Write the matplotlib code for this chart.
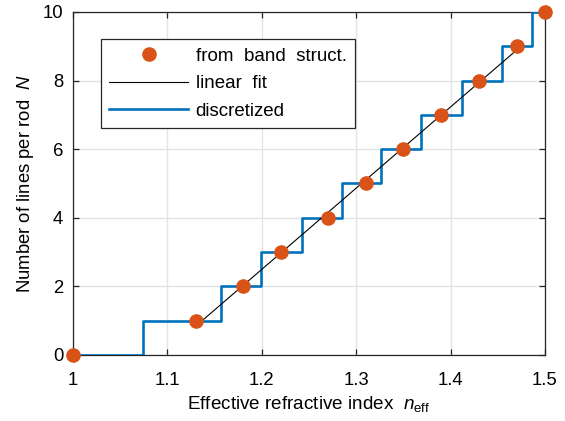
import matplotlib
matplotlib.use("Agg")
import matplotlib.pyplot as plt

# data
band_n = [1.0, 1.13, 1.18, 1.22, 1.27, 1.31, 1.35, 1.39, 1.43, 1.47, 1.5]
band_N = [0, 1, 2, 3, 4, 5, 6, 7, 8, 9, 10]

fit_n = [1.13, 1.47]
fit_N = [0.84, 8.89]

step_n = [1.0, 1.0745, 1.1564, 1.199, 1.2423, 1.2846, 1.326, 1.369, 1.412, 1.454, 1.4866, 1.5]
step_N = [0, 1, 2, 3, 4, 5, 6, 7, 8, 9, 10, 10]

x_ticks = [1.0, 1.1, 1.2, 1.3, 1.4, 1.5]
x_labels = ["1", "1.1", "1.2", "1.3", "1.4", "1.5"]
y_ticks = [0, 2, 4, 6, 8, 10]

plt.rcParams["font.family"] = ["Liberation Sans", "DejaVu Sans"]
plt.rcParams["mathtext.fontset"] = "custom"
plt.rcParams["mathtext.rm"] = "Liberation Sans"
plt.rcParams["mathtext.it"] = "Liberation Sans:italic"

dark = "#262626"
blue = "#0072BD"
orange = "#D95319"

fig = plt.figure(figsize=(5.65, 4.21), dpi=100)
ax = fig.add_axes([0.1292, 0.1568, 0.8354, 0.8147])

ax.step(step_n, step_N, where="post", color=blue, lw=1.9, label="discretized", zorder=3)
ax.plot(fit_n, fit_N, color="black", lw=0.8, label="linear  fit", zorder=4)
ax.plot(band_n, band_N, "o", color=orange, ms=9.5, mec=orange,
        label="from  band  struct.", zorder=5, clip_on=False)

ax.set_xlim(1.0, 1.5)
ax.set_ylim(0, 10)
ax.set_xticks(x_ticks)
ax.set_xticklabels(x_labels)
ax.set_yticks(y_ticks)

ax.grid(True, color="#e3e3e3", lw=1.0)
ax.set_axisbelow(True)
for s in ax.spines.values():
    s.set_color(dark)
    s.set_linewidth(0.9)
ax.tick_params(direction="in", top=True, right=True, length=4, width=0.9,
               color=dark, labelsize=13.3, labelcolor="black", pad=7)
ax.tick_params(axis="x", pad=12)

ax.set_xlabel(r"Effective refractive index  $n_{\mathrm{eff}}$", fontsize=13.6, labelpad=4)
ax.set_ylabel(r"Number of lines per rod  $N$", fontsize=13.3, labelpad=5)

h, l = ax.get_legend_handles_labels()
order = [2, 1, 0]
leg = ax.legend([h[i] for i in order], [l[i] for i in order],
                loc="upper left", bbox_to_anchor=(0.0593, 0.921), borderaxespad=0,
                fontsize=13.5, handlelength=4.2, handletextpad=0.4,
                labelspacing=0.55, borderpad=0.45, fancybox=False,
                edgecolor=dark, framealpha=1)
leg.get_frame().set_linewidth(0.9)

fig.savefig("out.png", dpi=100)
